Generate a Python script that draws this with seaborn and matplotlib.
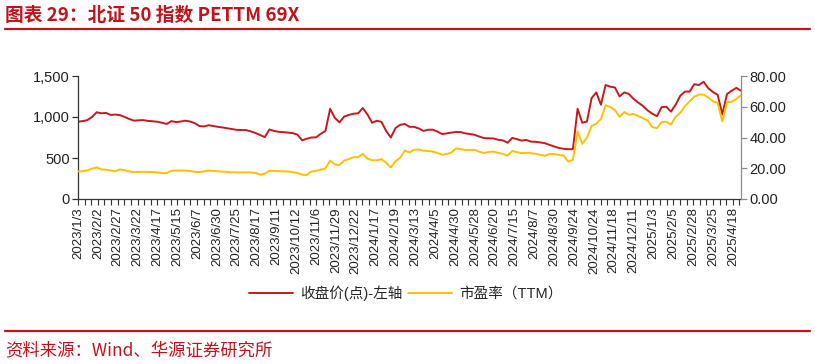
import numpy as np
import pandas as pd
import matplotlib
matplotlib.use("Agg")
import matplotlib.pyplot as plt
from matplotlib.lines import Line2D
from matplotlib.ticker import FuncFormatter
import seaborn as sns

# ---------------- data ----------------
tick_labels = ["2023/1/3", "2023/2/2", "2023/2/27", "2023/3/22", "2023/4/17", "2023/5/15",
               "2023/6/7", "2023/6/30", "2023/7/25", "2023/8/17", "2023/9/11", "2023/10/12",
               "2023/11/6", "2023/11/29", "2023/12/22", "2024/1/17", "2024/2/19", "2024/3/13",
               "2024/4/5", "2024/4/30", "2024/5/28", "2024/6/20", "2024/7/15", "2024/8/7",
               "2024/8/30", "2024/9/24", "2024/10/24", "2024/11/18", "2024/12/11", "2025/1/3",
               "2025/2/5", "2025/2/28", "2025/3/25", "2025/4/18"]
label_step = 17          # trading days between labels
sample_step = 4          # trading days between samples

close = [942, 950, 962, 1000, 1058, 1045, 1050, 1025, 1030, 1022, 1000, 975, 955, 960, 962, 952,
         948, 942, 930, 915, 950, 938, 945, 955, 945, 925, 890, 885, 900, 890, 880, 872,
         862, 852, 843, 842, 840, 825, 805, 780, 755, 848, 830, 820, 815, 810, 803, 785,
         715, 735, 750, 752, 795, 830, 1100, 990, 935, 1005, 1025, 1040, 1045, 1110, 1030, 930,
         955, 940, 830, 750, 865, 905, 915, 880, 880, 860, 830, 845, 845, 822, 792, 800,
         810, 818, 815, 800, 792, 782, 760, 742, 740, 738, 722, 715, 685, 745, 730, 712,
         720, 700, 698, 690, 680, 660, 640, 622, 612, 607, 607, 1100, 930, 945, 1230, 1300,
         1150, 1390, 1370, 1360, 1250, 1300, 1280, 1220, 1175, 1135, 1080, 1040, 1010, 1120, 1125, 1065,
         1150, 1260, 1310, 1310, 1400, 1390, 1430, 1350, 1305, 1270, 1030, 1280, 1320, 1355, 1320]

pe_ttm = [17.9, 18.2, 18.5, 19.8, 20.6, 19.2, 19.0, 18.6, 18.0, 19.3, 18.7, 18.0, 17.5, 17.6, 17.7, 17.6,
          17.5, 17.3, 16.9, 16.8, 18.4, 18.5, 18.5, 18.5, 18.2, 17.7, 17.5, 18.0, 18.5, 18.2, 18.0, 17.8,
          17.6, 17.4, 17.3, 17.3, 17.3, 17.2, 17.0, 15.8, 16.5, 18.4, 18.2, 18.1, 18.0, 17.9, 17.4, 17.0,
          15.8, 15.6, 17.9, 18.4, 19.0, 19.9, 25.0, 22.5, 22.0, 25.0, 26.0, 27.2, 27.2, 29.3, 26.2, 25.2,
          25.2, 25.9, 23.5, 20.5, 24.5, 26.8, 31.5, 30.3, 32.0, 32.2, 31.4, 31.2, 30.8, 29.9, 28.8, 29.3,
          30.2, 33.0, 32.4, 31.9, 31.9, 31.9, 30.7, 29.9, 30.6, 30.8, 30.0, 29.3, 28.2, 31.2, 30.5, 29.8,
          30.1, 29.8, 29.4, 28.8, 28.1, 29.3, 29.3, 28.6, 28.2, 24.3, 25.5, 44.0, 35.8, 40.0, 47.5, 49.0,
          52.0, 61.0, 59.8, 57.8, 53.5, 56.5, 54.8, 55.3, 54.0, 52.5, 51.0, 46.8, 46.0, 50.2, 50.2, 48.4,
          53.5, 56.2, 60.5, 63.5, 66.5, 68.0, 67.8, 66.0, 63.5, 62.5, 50.5, 63.0, 63.2, 65.0, 67.5]

trade_day = np.arange(len(close)) * sample_step

# ---------------- style ----------------
RED = "#C8171E"
YEL = "#FFC000"
TITLE_RED = "#C0141C"

sns.set_theme(style="white")
plt.rcParams["font.family"] = ["Liberation Sans", "Noto Sans CJK SC", "DejaVu Sans"]

W, H = 815, 364
fig = plt.figure(figsize=(W / 100, H / 100), dpi=100)
fig.patch.set_facecolor("white")

ax = fig.add_axes([78 / W, 1 - 199 / H, (741 - 78) / W, (199 - 76) / H])
ax2 = ax.twinx()

df = pd.DataFrame({"day": trade_day, "close": close, "pe": pe_ttm})
sns.lineplot(data=df, x="day", y="close", ax=ax, color=RED, linewidth=1.4)
sns.lineplot(data=df, x="day", y="pe", ax=ax2, color=YEL, linewidth=1.4)

last_day = trade_day[-1]
ax.set_xlim(0, last_day)
ax.set_ylim(0, 1500)
ax2.set_ylim(0, 80)

ax.set_yticks([0, 500, 1000, 1500])
ax.yaxis.set_major_formatter(FuncFormatter(lambda v, p: f"{v:,.0f}"))
ax2.set_yticks([0, 20, 40, 60, 80])
ax2.yaxis.set_major_formatter(FuncFormatter(lambda v, p: f"{v:.2f}"))

ax.set_xticks(np.arange(len(tick_labels)) * label_step)
ax.set_xticklabels(tick_labels, rotation=90, fontsize=9.5, color="#222222")
ax.set_xticks(np.arange(0, last_day + 1, label_step / 3), minor=True)

for a in (ax, ax2):
    a.set_xlabel("")
    a.set_ylabel("")
    a.grid(False)
    for s in a.spines.values():
        s.set_visible(False)

ax.spines["left"].set_visible(True)
ax.spines["left"].set_color("#333333")
ax.spines["left"].set_linewidth(0.9)
ax.spines["bottom"].set_visible(True)
ax.spines["bottom"].set_color("#333333")
ax.spines["bottom"].set_linewidth(0.9)
ax2.spines["right"].set_visible(True)
ax2.spines["right"].set_color("#8c8c8c")
ax2.spines["right"].set_linewidth(0.9)

ax.tick_params(axis="y", which="major", direction="out", length=4, width=0.9,
               color="#333333", labelsize=10.5, labelcolor="#222222", pad=2, left=True)
ax.tick_params(axis="x", which="both", direction="out", length=4, width=0.8,
               color="#333333", pad=2, bottom=True)
ax2.tick_params(axis="y", which="major", direction="out", length=4, width=0.9,
                color="#8c8c8c", labelsize=10.5, labelcolor="#222222", pad=2, right=True)

# ---------------- legend ----------------
handles = [Line2D([], [], color=RED, lw=1.4), Line2D([], [], color=YEL, lw=1.4)]
fig.legend(handles, ["收盘价(点)-左轴", "市盈率（TTM）"], loc="center",
           bbox_to_anchor=(406 / W, 1 - 293 / H), ncol=2, frameon=False,
           fontsize=10.5, handlelength=3.0, handletextpad=0.5, columnspacing=0.4)

# ---------------- title & footer ----------------
fig.text(5 / W, 1 - 15 / H, "图表 29：北证 50 指数 PETTM 69X", color=TITLE_RED,
         fontsize=13.5, fontweight="bold", va="center", ha="left",
         family=["Noto Sans CJK SC", "DejaVu Sans"])
fig.add_artist(Line2D([5 / W, 810 / W], [1 - 29 / H] * 2, color=TITLE_RED, lw=1.6))
fig.add_artist(Line2D([5 / W, 810 / W], [1 - 331 / H] * 2, color=TITLE_RED, lw=1.6))
fig.text(5 / W, 1 - 350 / H, "资料来源：Wind、华源证券研究所", color=TITLE_RED,
         fontsize=12.5, va="center", ha="left",
         family=["Noto Sans CJK SC", "DejaVu Sans"])

fig.savefig("out.png", dpi=100, facecolor="white")
